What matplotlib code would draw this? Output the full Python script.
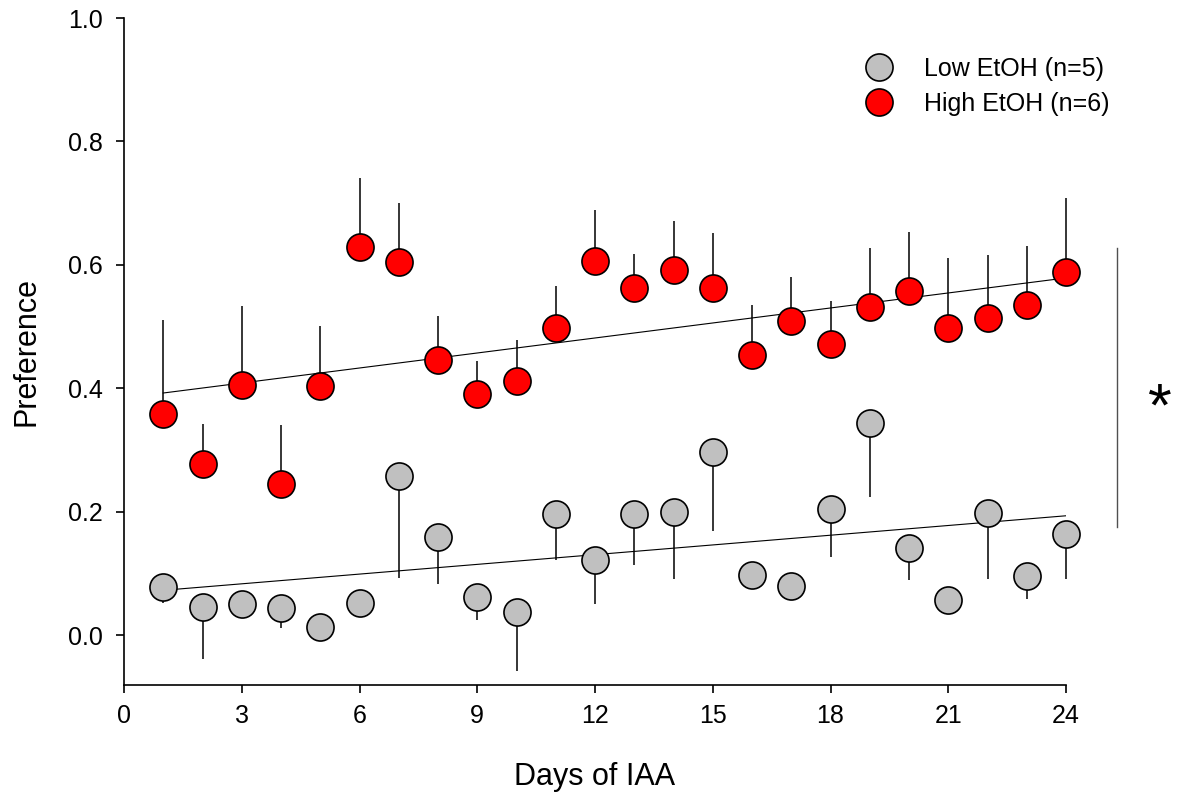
import matplotlib
matplotlib.use('Agg')
import matplotlib.pyplot as plt
import numpy as np

plt.rcParams['font.family'] = ['Liberation Sans', 'DejaVu Sans']

days = np.arange(1, 25)

high_mean = [0.358, 0.277, 0.405, 0.245, 0.404, 0.629, 0.605, 0.446, 0.391, 0.412, 0.498, 0.606,
             0.562, 0.592, 0.562, 0.454, 0.509, 0.472, 0.532, 0.557, 0.498, 0.514, 0.535, 0.588]
high_sem = [0.153, 0.065, 0.128, 0.095, 0.097, 0.112, 0.095, 0.071, 0.053, 0.066, 0.068, 0.083,
            0.055, 0.079, 0.090, 0.081, 0.071, 0.069, 0.095, 0.096, 0.113, 0.102, 0.095, 0.120]

low_mean = [0.078, 0.046, 0.051, 0.043, 0.013, 0.052, 0.258, 0.159, 0.062, 0.037, 0.196, 0.121,
            0.196, 0.200, 0.297, 0.098, 0.080, 0.204, 0.343, 0.141, 0.057, 0.197, 0.096, 0.164]
low_sem = [0.026, 0.085, 0.015, 0.031, 0.015, 0.015, 0.166, 0.076, 0.038, 0.096, 0.075, 0.070,
           0.083, 0.109, 0.129, 0.015, 0.015, 0.077, 0.119, 0.052, 0.015, 0.106, 0.038, 0.073]

labels = ['Low EtOH (n=5)', 'High EtOH (n=6)']
colors = ['#c0c0c0', '#ff0000']
xticks = [0, 3, 6, 9, 12, 15, 18, 21, 24]
yticks = [0.0, 0.2, 0.4, 0.6, 0.8, 1.0]

fig = plt.figure(figsize=(11.88, 7.92), dpi=100)
ax = fig.add_axes([124 / 1188, 1 - 685 / 792, 942 / 1188, 667 / 792])

# one-sided SEM bars: low group points down, high group points up
z = np.zeros(len(days))
for m, err in ((low_mean, [low_sem, z]), (high_mean, [z, high_sem])):
    eb = ax.errorbar(days, m, yerr=err, fmt='none', ecolor='black', elinewidth=1.1, capsize=0, zorder=2)
    for c in eb.lines[2]:
        c.set_clip_on(False)

# linear trend lines
for m in (low_mean, high_mean):
    k, b = np.polyfit(days, m, 1)
    ax.plot([days[0], days[-1]], [k * days[0] + b, k * days[-1] + b], color='black', lw=0.8, zorder=2)

ax.plot(days, low_mean, 'o', ms=19.5, mfc=colors[0], mec='black', mew=1.2, ls='none',
        label=labels[0], zorder=3, clip_on=False)
ax.plot(days, high_mean, 'o', ms=19.5, mfc=colors[1], mec='black', mew=1.2, ls='none',
        label=labels[1], zorder=3, clip_on=False)

ax.set_xlim(0, 24)
ax.set_ylim(-0.081, 1.0)
ax.set_xticks(xticks)
ax.set_yticks(yticks)
ax.set_yticklabels(['%.1f' % t for t in yticks])
for s in ('top', 'right'):
    ax.spines[s].set_visible(False)
for s in ('left', 'bottom'):
    ax.spines[s].set_linewidth(1.2)
ax.tick_params(direction='out', length=6, width=1.2, labelsize=18)
ax.tick_params(axis='y', pad=9)
ax.tick_params(axis='x', pad=8)

ax.set_xlabel('Days of IAA', fontsize=22, labelpad=24)
ax.set_ylabel('Preference', fontsize=22, labelpad=19)

ax.legend(loc='upper left', bbox_to_anchor=(0.7856, 0.9415), frameon=False, fontsize=18,
          handlelength=1.2, handletextpad=1.2, borderpad=0, borderaxespad=0, labelspacing=0.42,
          numpoints=1)

# significance bar and asterisk
ax.plot([25.3, 25.3], [0.175, 0.627], color='#505050', lw=1.0, clip_on=False)
ax.text(26.4, 0.365, '*', fontsize=44, ha='center', va='center', clip_on=False)

fig.savefig('out.png', dpi=100)
